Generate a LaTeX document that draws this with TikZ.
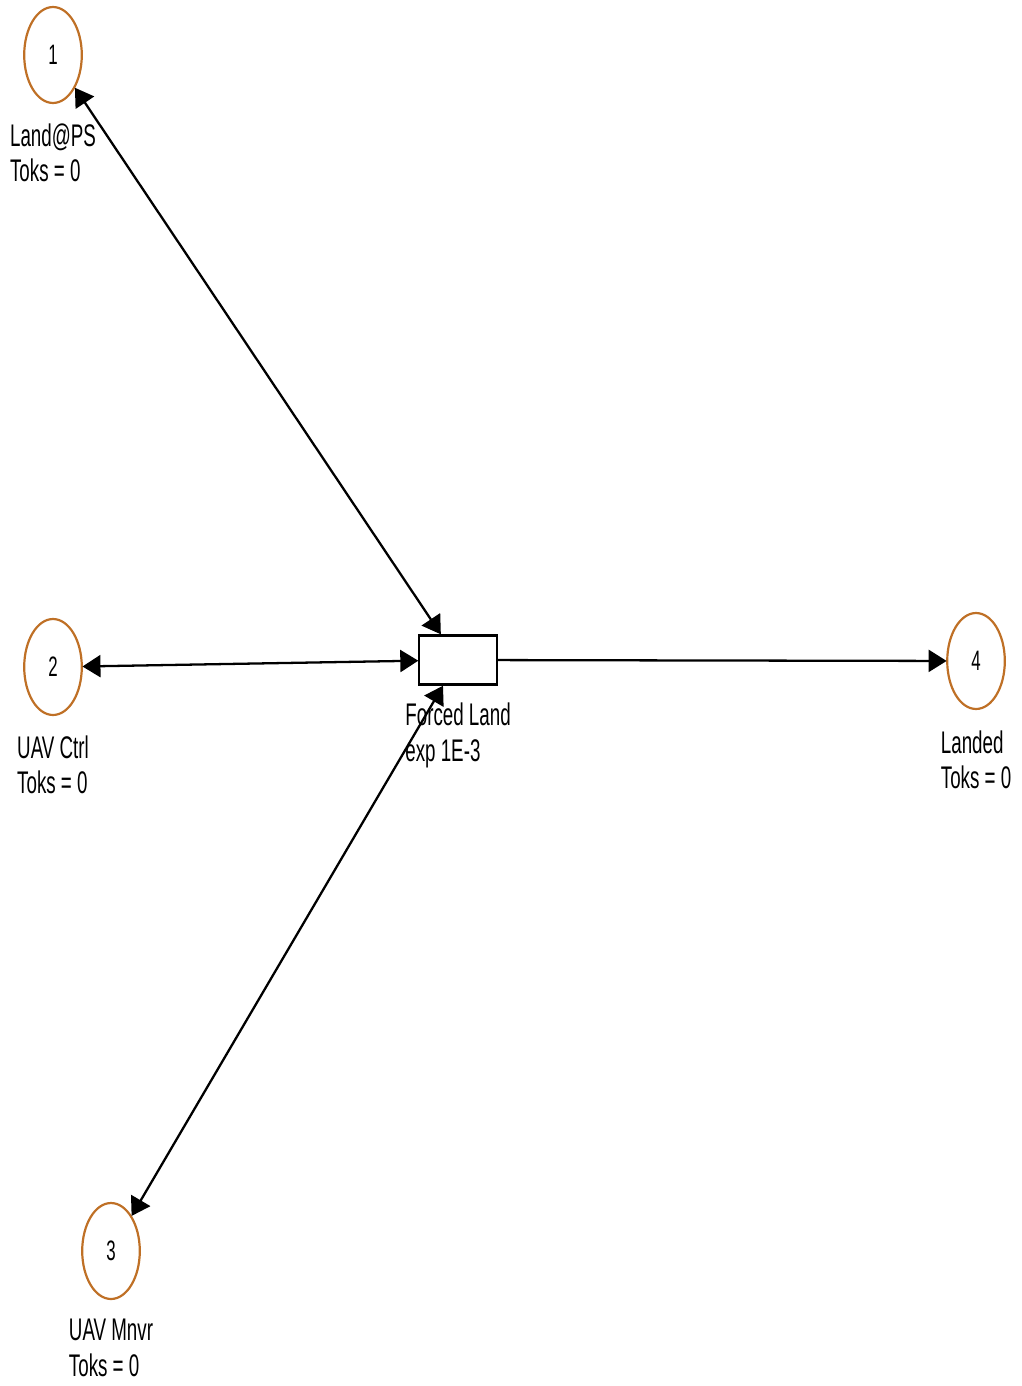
\documentclass[tikz,border=0pt]{standalone}
\usepackage{fontspec}
\setmainfont{Liberation Sans}
\usetikzlibrary{arrows.meta,positioning}
\definecolor{placeorange}{RGB}{191,112,38}

\begin{document}
\begin{tikzpicture}[xscale=0.6,x=0.0333333cm,y=-0.02cm,
every node/.style={transform shape},
>={Triangle[length=0.36cm,width=0.44cm]},
place/.style={circle,draw=placeorange,line width=1.25pt,minimum size=1.92cm,inner sep=0pt,font=\fontsize{16}{18}\selectfont},
trans/.style={rectangle,draw,line width=1.4pt,minimum width=2.6cm,minimum height=0.98cm,inner sep=0pt},
tag/.style={align=left,inner sep=0pt,font=\fontsize{17.8}{20.2}\selectfont},
flow/.style={line width=1.3pt}]
\useasboundingbox (0,0) rectangle (1021,1386);
% places and the single transition
\node[place] (p1) at (53,55) {1};
\node[place] (p2) at (53,667) {2};
\node[place] (p3) at (111,1251) {3};
\node[place] (p4) at (976,661) {4};
\node[trans] (t1) at (458,660) {};
\node[tag,below=0.38cm of p1] (l1) {Land@PS\\Toks = 0};
\node[tag,below=0.38cm of p2] (l2) {UAV Ctrl\\Toks = 0};
\node[tag,below=0.38cm of p3] (l3) {UAV Mnvr\\Toks = 0};
\node[tag,below=0.4cm of p4] (l4) {Landed\\Toks = 0};
\node[tag,below=0.34cm of t1] (lt) {Forced Land\\exp 1E-3};
% arcs
\draw[flow,<->] (p1) -- (t1);
\draw[flow,<->] (p2) -- (t1);
\draw[flow,<->] (p3) -- (t1);
\draw[flow,->] (t1) -- (p4);
\end{tikzpicture}
\end{document}
